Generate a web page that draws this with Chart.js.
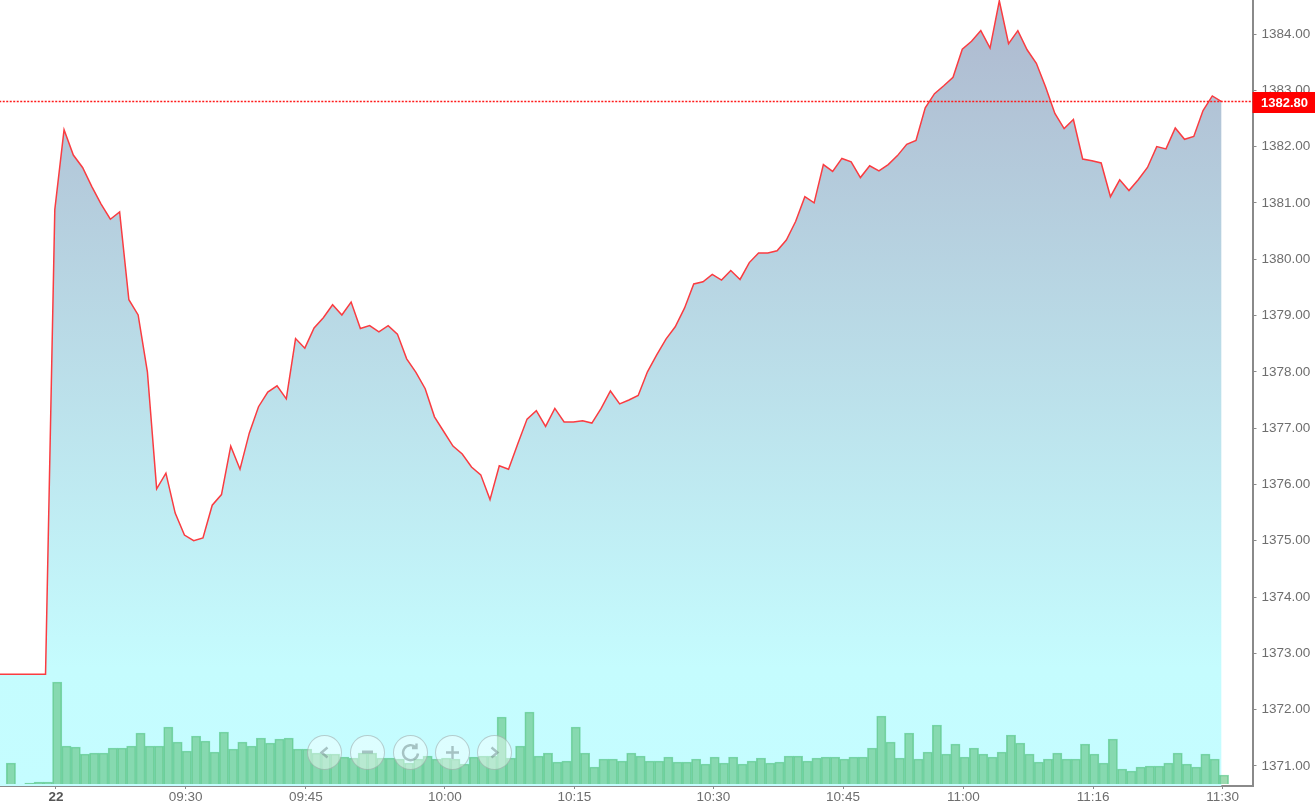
<!DOCTYPE html>
<html>
<head>
<meta charset="utf-8">
<title>Chart</title>
<script src="https://cdn.jsdelivr.net/npm/chart.js@4"></script>
<style>
    html, body { margin: 0; padding: 0; background: #fff; overflow: hidden; }
    #wrap { position: relative; width: 1315px; height: 808px; }
    .nav-btn {
        position: absolute; top: 735px; width: 33px; height: 33px; border-radius: 50%;
        background: rgba(255, 255, 255, 0.42);
        border: 1px solid rgba(110, 125, 125, 0.38);
    }
    .nav-btn svg { display: block; width: 33px; height: 33px; }
    .nav-btn path { fill: none; stroke: rgba(110, 135, 135, 0.5); stroke-width: 2.4; }
</style>
</head>
<body>
<div id="wrap">
    <canvas id="my-chart" width="1315" height="808"></canvas>
    <div class="nav-btn" style="left:307px"><svg viewBox="0 0 33 33"><path d="M19.5 11.5 L13.5 16.5 L19.5 21.5"/></svg></div>
    <div class="nav-btn" style="left:350px"><svg viewBox="0 0 33 33"><path d="M11 16 H22" style="stroke-width:3"/></svg></div>
    <div class="nav-btn" style="left:393px"><svg viewBox="0 0 33 33"><path d="M22 11.5 A7.5 7.5 0 1 0 24 17.5 M22.5 7.5 V12 H18"/></svg></div>
    <div class="nav-btn" style="left:435px"><svg viewBox="0 0 33 33"><path d="M16.5 10 V23 M10 16.5 H23"/></svg></div>
    <div class="nav-btn" style="left:477px"><svg viewBox="0 0 33 33"><path d="M13.5 11.5 L19.5 16.5 L13.5 21.5"/></svg></div>
</div>
<script>
// tick labels (x position = bar number from the "22" session open)
const xTickIndex = [0, 14, 27, 42, 56, 71, 85, 98, 112, 126];
const xTickLabels = ['22', '09:30', '09:45', '10:00', '10:15', '10:30', '10:45', '11:00', '11:16', '11:30'];
const yTicks = [1371, 1372, 1373, 1374, 1375, 1376, 1377, 1378, 1379, 1380, 1381, 1382, 1383, 1384];

const lastPrice = 1382.80;

// first six values belong to the previous session, bar -6 to -1
const prices = [
    1372.63, 1372.63, 1372.63, 1372.63, 1372.63, 1372.63,
    1380.88, 1382.30, 1381.85, 1381.63, 1381.29, 1380.98, 1380.71, 1380.84, 1379.28, 1379.01,
    1378.00, 1375.92, 1376.20, 1375.49, 1375.10, 1375.00, 1375.05, 1375.63, 1375.82, 1376.68,
    1376.27, 1376.91, 1377.38, 1377.64, 1377.75, 1377.52, 1378.59, 1378.42, 1378.78, 1378.96,
    1379.19, 1379.01, 1379.24, 1378.77, 1378.82, 1378.71, 1378.82, 1378.67, 1378.23, 1377.99,
    1377.70, 1377.20, 1376.94, 1376.68, 1376.54, 1376.31, 1376.17, 1375.73, 1376.33, 1376.27,
    1376.72, 1377.16, 1377.31, 1377.03, 1377.35, 1377.11, 1377.11, 1377.13, 1377.09, 1377.35,
    1377.66, 1377.43, 1377.50, 1377.58, 1378.00, 1378.30, 1378.58, 1378.80, 1379.13, 1379.56,
    1379.60, 1379.73, 1379.63, 1379.80, 1379.64, 1379.94, 1380.11, 1380.11, 1380.15, 1380.34,
    1380.67, 1381.11, 1381.00, 1381.68, 1381.56, 1381.79, 1381.73, 1381.45, 1381.66, 1381.57,
    1381.68, 1381.84, 1382.04, 1382.11, 1382.69, 1382.94, 1383.08, 1383.23, 1383.73, 1383.87,
    1384.06, 1383.75, 1384.59, 1383.83, 1384.06, 1383.72, 1383.48, 1383.06, 1382.59, 1382.32,
    1382.48, 1381.78, 1381.75, 1381.71, 1381.11, 1381.41, 1381.22, 1381.41, 1381.63, 1382.00,
    1381.96, 1382.33, 1382.13, 1382.18, 1382.64, 1382.90, 1382.80
];

// same bars, no scale shown on the picture
const volumes = [
    null, 21, null, 1, 2, 2,
    102, 38, 37, 30, 31, 31, 36, 36, 38, 51,
    38, 38, 57, 42, 33, 48, 43, 32, 52, 35,
    42, 38, 46, 41, 45, 46, 35, 35, 31, 30,
    30, 27, 26, 31, 31, 26, 26, 25, 21, 25,
    28, 25, 26, 25, 20, 27, 28, 28, 67, 26,
    38, 72, 28, 31, 22, 23, 57, 31, 17, 25,
    25, 23, 31, 28, 23, 23, 27, 22, 22, 25,
    20, 27, 21, 27, 20, 23, 26, 21, 22, 28,
    28, 23, 26, 27, 27, 25, 27, 27, 36, 68,
    42, 26, 51, 25, 32, 59, 30, 40, 27, 36,
    30, 27, 32, 49, 41, 30, 22, 25, 31, 25,
    25, 40, 30, 21, 45, 15, 13, 17, 18, 18,
    21, 31, 20, 17, 30, 25, 9
];

const firstBar = -6;
const barStep = 9.26;
const plotWidth = 1252.5;

// the three series sit on slightly different x origins, as in the picture
function xRange (origin) {
    return { min: -origin / barStep, max: (plotWidth - origin) / barStep };
}

const fillGradient = function (context) {
    const area = context.chart.chartArea;
    if (!area) return 'rgb(196, 252, 255)';
    const g = context.chart.ctx.createLinearGradient(0, area.top, 0, area.bottom);
    g.addColorStop(0, 'rgb(174, 185, 207)');
    g.addColorStop(0.85, 'rgb(197, 252, 254)');
    g.addColorStop(1, 'rgb(197, 253, 255)');
    return g;
};

/* box with the last price on the axis */
const priceBox = {
    id: 'priceBox',
    afterDraw (chart) {
        const c = chart.ctx;
        const y = chart.scales.y.getPixelForValue(lastPrice);
        c.save();
        c.fillStyle = '#ff0000';
        c.fillRect(plotWidth, Math.round(y) - 10, 1315 - plotWidth, 21);
        c.fillStyle = '#ffffff';
        c.font = 'bold 13px "Liberation Sans"';
        c.textBaseline = 'middle';
        c.textAlign = 'left';
        c.fillText(lastPrice.toFixed(2), 1261, Math.round(y) + 1);
        c.restore();
    }
};

const isOpenTick = (c) => c.tick && c.tick.value === 0;

const ctx = document.getElementById('my-chart');

const config = {
    type: 'bar',
    data: {
        datasets: [
            {
                type: 'line',
                data: [{ x: firstBar, y: lastPrice }, { x: 130, y: lastPrice }],
                xAxisID: 'xLine',
                borderColor: '#ff1a1a',
                borderWidth: 1.6,
                borderDash: [2, 1.5],
                pointRadius: 0,
                fill: false,
                order: 0
            },
            {
                type: 'line',
                data: prices.map((v, i) => ({ x: firstBar + i, y: v })),
                xAxisID: 'xLine',
                borderColor: 'rgb(250, 60, 65)',
                borderWidth: 1.5,
                backgroundColor: fillGradient,
                pointRadius: 0,
                tension: 0,
                fill: 'start',
                order: 2
            },
            {
                type: 'bar',
                data: volumes.map((v, i) => ({ x: firstBar + i, y: v })),
                xAxisID: 'xBar',
                yAxisID: 'yVol',
                backgroundColor: 'rgba(91, 194, 123, 0.6)',
                borderColor: 'rgba(90, 200, 140, 0.7)',
                borderWidth: 1,
                barThickness: 9.3,
                grouped: false,
                order: 1
            }
        ]
    },
    options: {
        responsive: false,
        animation: false,
        layout: { padding: 0 },
        plugins: {
            legend: { display: false },
            tooltip: { enabled: false }
        },
        scales: {
            x: {
                type: 'linear',
                offset: false,
                ...xRange(55.9),
                afterBuildTicks: (axis) => { axis.ticks = xTickIndex.map(v => ({ value: v })); },
                afterFit: (axis) => {
                    axis.height = 808 - 786;
                    axis.paddingLeft = 0;
                    axis.paddingRight = 0;
                },
                border: { color: '#8a8a8a', width: 2 },
                grid: { offset: false, drawOnChartArea: false, tickLength: 3, tickColor: '#8a8a8a' },
                ticks: {
                    autoSkip: false,
                    maxRotation: 0,
                    padding: 0,
                    color: (c) => isOpenTick(c) ? '#555' : '#6e6e6e',
                    font: (c) => ({ family: '"Liberation Sans"', size: 13.5, weight: isOpenTick(c) ? 'bold' : 'normal' }),
                    callback: (value) => xTickLabels[xTickIndex.indexOf(value)]
                }
            },
            xLine: { type: 'linear', display: false, offset: false, ...xRange(54.8) },
            xBar: { type: 'linear', display: false, offset: false, ...xRange(57.2) },
            y: {
                position: 'right',
                min: 1370.643,
                max: 1384.604,
                afterBuildTicks: (axis) => { axis.ticks = yTicks.map(v => ({ value: v })); },
                afterFit: (axis) => {
                    axis.width = 1315 - plotWidth;
                    axis.paddingTop = 0;
                    axis.paddingBottom = 0;
                },
                border: { color: '#8a8a8a', width: 2 },
                grid: { drawOnChartArea: false, tickLength: 4, tickColor: '#8a8a8a' },
                ticks: {
                    padding: 5,
                    color: '#6e6e6e',
                    font: { family: '"Liberation Sans"', size: 13.5 },
                    callback: (value) => value.toFixed(2)
                }
            },
            yVol: { display: false, min: -2, max: 784 }
        }
    },
    plugins: [priceBox]
};

const myChart = new Chart(ctx, config);
</script>
</body>
</html>
